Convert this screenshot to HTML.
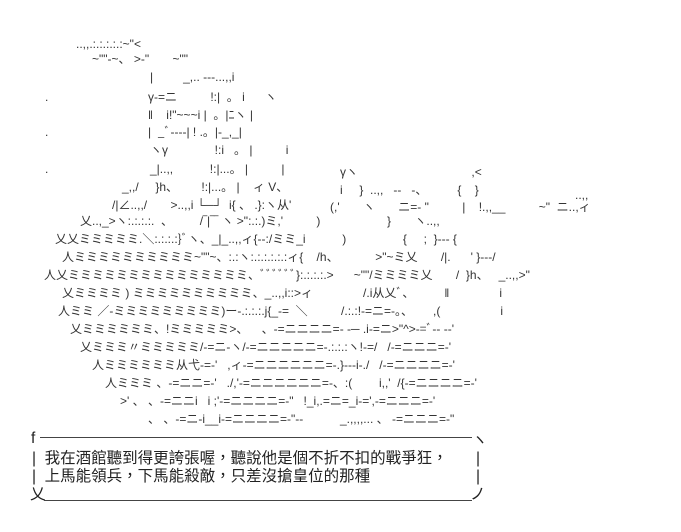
<!DOCTYPE html>
<html><head><meta charset="utf-8"><style>
html,body{margin:0;padding:0;background:#fff;width:681px;height:532px;overflow:hidden}
.l{position:absolute;white-space:pre;font-family:"Liberation Sans","Noto Sans CJK JP",sans-serif;font-size:12px;line-height:14px;color:#333;letter-spacing:0}
.t{position:absolute;white-space:pre;font-family:"Liberation Sans","Noto Sans CJK TC",sans-serif;font-size:15.5px;line-height:18px;color:#222}
.h{position:absolute;height:0;border-top:1px solid #444}
</style></head><body>
<div class="l" style="left:76px;top:37px">..,,.:.:.:.:.:~"&lt;</div>
<div class="l" style="left:92px;top:52px">~""‐~、 &gt;‐"       ~""</div>
<div class="l" style="left:150px;top:70px">|         _,.. ---...,,i</div>
<div class="l" style="left:45px;top:90px">.</div>
<div class="l" style="left:148px;top:90px">γ‐=ニ          !:|  。 i      ヽ</div>
<div class="l" style="left:148px;top:108px">‖    i!"~~~i |  。|ﾆヽ |</div>
<div class="l" style="left:45px;top:125px">.</div>
<div class="l" style="left:148px;top:125px">|  _ﾞ----| ! .。|-_,_|</div>
<div class="l" style="left:150px;top:143px">ヽγ              !:i   。 |          i</div>
<div class="l" style="left:45px;top:162px">.</div>
<div class="l" style="left:150px;top:162px">_|..,,           !:|...。 |          |</div>
<div class="l" style="left:122px;top:180px">_,,/     }h、       !:|...。 |    ィ V、</div>
<div class="l" style="left:112px;top:198px">/|∠..,,/       &gt;..,,i └─┘  i{ 、 .}:ヽ从'</div>
<div class="l" style="left:340px;top:165px">γヽ                                  ,&lt;</div>
<div class="l" style="left:340px;top:183px">i     }  ..,,   ‐‐   ‐、         {    }</div>
<div class="l" style="left:330px;top:200px">(,'       ヽ       ニ=‐ "          |    !.,,__          ~"  ニ..,ィ</div>
<div class="l" style="left:575px;top:188px">..,,</div>
<div class="l" style="left:80px;top:214px">乂..,_&gt;ヽ:.:.:.:.  、        /‾|‾‾ ヽ &gt;":.:.)ミ,'          )                    }       ヽ..,,</div>
<div class="l" style="left:55px;top:232px">乂乂ミミミミミ.＼:.:.:.:}ﾞヽ、_|_..,,ィ{‐-:/ミミ_i           )                 {     ;  }‐‐‐ {</div>
<div class="l" style="left:62px;top:250px">人ミミミミミミミミミミ~""~、:.:ヽ:.:.:.:.:.:ィ{    /h、           &gt;"~ミ乂       /|.      ' }‐‐‐/</div>
<div class="l" style="left:44px;top:268px">人乂ミミミミミミミミミミミミミミミ、ﾞﾞﾞﾞﾞﾞ}:.:.:.:.&gt;      ~""/ミミミミ乂       /  }h、   _..,,&gt;"</div>
<div class="l" style="left:62px;top:286px">乂ミミミミ ) ミミミミミミミミミミ、_..,,i::&gt;ィ               /.i从乂ﾞ、         ‖               i</div>
<div class="l" style="left:58px;top:304px">人ミミ ／‐ミミミミミミミミミ)ー‐.:.:.:.j{_‐=  ＼          /.:.:!‐=ニ=‐。、      ,(                  i</div>
<div class="l" style="left:70px;top:322px">乂ミミミミミミ、!ミミミミミ&gt;、    、‐=ニニニニ=‐ ‐─ .i‐=ニ&gt;"^&gt;‐=ﾞ‐‐ ‐‐'</div>
<div class="l" style="left:80px;top:340px">乂ミミミ〃ミミミミミ/‐=ニ‐ヽ/‐=ニニニニニ=‐.:.:.:ヽ!‐=/   /‐=ニニニ=‐'</div>
<div class="l" style="left:92px;top:358px">人ミミミミミミ从弋‐=‐'   ,ィ‐=ニニニニニニ=‐.}‐‐‐i‐./   /‐=ニニニニ=‐'</div>
<div class="l" style="left:105px;top:376px">人ミミミ 、‐=ニニ=‐'   ./,'‐=ニニニニニニ=‐、:(        i,,'  /{‐=ニニニニ=‐'</div>
<div class="l" style="left:120px;top:394px">&gt;' 、 、‐=ニニi   i ;'‐=ニニニニ=‐"   !_i,.=ニ=_i‐=',‐=ニニニ=‐'</div>
<div class="l" style="left:148px;top:412px">、 、‐=ニ‐i__i‐=ニニニニ=‐"‐‐           _.,,,,... 、 ‐=ニニニ=‐"</div>

<div class="t" style="left:31px;top:430px">f</div>
<div class="h" style="left:40px;top:437px;width:432px"></div>
<div class="t" style="left:472px;top:432px">ヽ</div>
<div class="t" style="left:32px;top:450px">|  我在酒館聽到得更誇張喔，聽說他是個不折不扣的戰爭狂，</div>
<div class="t" style="left:476px;top:450px">|</div>
<div class="t" style="left:32px;top:468px">|  上馬能領兵，下馬能殺敵，只差沒搶皇位的那種</div>
<div class="t" style="left:476px;top:468px">|</div>
<div class="t" style="left:30px;top:486px">乂</div>
<div class="h" style="left:44px;top:500px;width:428px"></div>
<div class="t" style="left:470px;top:486px">ノ</div>
</body></html>
